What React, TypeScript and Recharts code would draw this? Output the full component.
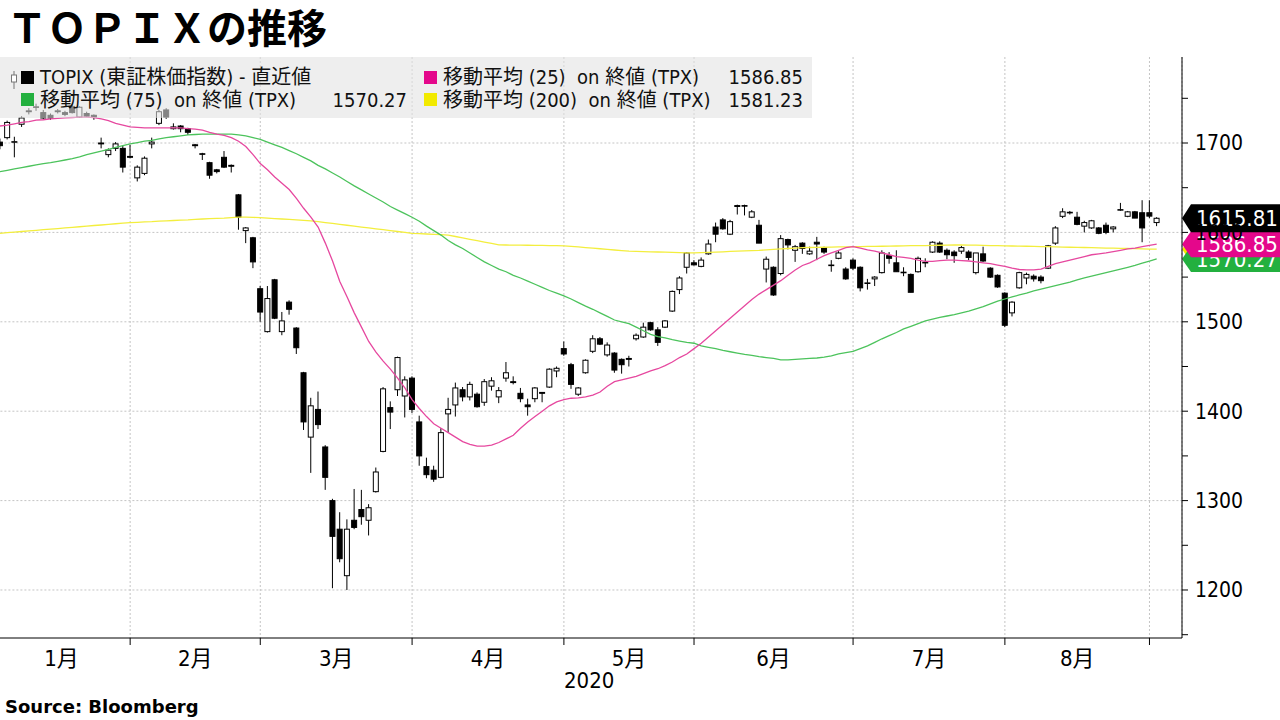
import React from 'react'
import {
  ComposedChart,
  Bar,
  Line,
  XAxis,
  YAxis,
  CartesianGrid,
  ReferenceLine,
  Legend,
} from 'recharts'

const FONT = "'DejaVu Sans Condensed', 'Noto Sans CJK JP', sans-serif"

// daily candles [open, high, low, close], one array per month
const janBars = [
  [1701, 1705, 1693, 1697], [1706, 1725, 1704, 1723], [1701, 1707, 1684, 1701.5], [1721, 1730, 1718, 1728],
  [1735, 1739, 1732, 1736], [1740, 1744, 1736, 1740.5], [1734, 1737, 1727, 1728], [1731, 1733, 1726, 1728],
  [1735, 1738, 1733, 1736], [1734, 1736, 1730, 1732], [1741, 1743, 1733, 1734], [1729, 1741, 1728, 1740],
  [1733, 1735, 1729, 1730], [1731, 1732, 1726, 1729], [1700, 1706, 1694, 1699], [1687, 1694, 1684, 1692],
  [1694, 1701, 1691, 1699], [1694, 1697, 1667, 1673], [1685, 1698, 1683, 1684],
]
const febBars = [
  [1661, 1675, 1657, 1673], [1666, 1685, 1664, 1683], [1699, 1706, 1694, 1701], [1722, 1737, 1720, 1735],
  [1737, 1739, 1727, 1729], [1716, 1722, 1715, 1718], [1719, 1720, 1712, 1716], [1716, 1717, 1709, 1712],
  [1698, 1699, 1694, 1697], [1688, 1689, 1681, 1687.5], [1678, 1679, 1660, 1664], [1670, 1671, 1666, 1668],
  [1684, 1691, 1672, 1673], [1675, 1676, 1667, 1674], [1642, 1643, 1603, 1617], [1602, 1606, 1588, 1605],
  [1594, 1595, 1560, 1567], [1537, 1540, 1500, 1510.9],
]
const marBars = [
  [1489, 1540, 1488, 1526], [1547, 1548, 1503, 1504], [1489, 1511, 1485, 1501], [1522, 1524, 1508, 1514],
  [1493, 1494, 1464, 1471], [1443, 1444, 1379, 1388], [1371, 1415, 1331, 1406], [1402, 1422, 1380, 1385],
  [1360, 1362, 1312, 1326], [1300, 1302, 1202, 1260], [1268, 1287, 1231, 1235], [1216, 1279, 1200, 1268],
  [1278, 1313, 1268, 1270], [1290, 1312, 1273, 1282], [1278, 1296, 1261, 1292], [1310, 1337, 1309, 1332],
  [1355, 1427, 1354, 1425], [1404, 1411, 1380, 1399], [1424, 1461, 1417, 1460], [1417, 1439, 1393, 1435],
  [1437, 1439, 1398, 1402],
]
const aprBars = [
  [1388, 1395, 1339, 1350], [1338, 1348, 1325, 1329], [1334, 1339, 1321, 1324], [1326, 1381, 1325, 1376],
  [1397, 1415, 1376, 1402], [1407, 1432, 1394, 1426], [1424, 1427, 1411, 1416], [1416, 1433, 1412, 1430],
  [1419, 1421, 1404, 1405], [1410, 1436, 1406, 1433], [1428, 1438, 1423, 1434], [1416, 1427, 1409, 1423],
  [1437, 1455, 1433, 1443], [1433, 1439, 1430, 1432], [1420, 1426, 1410, 1414], [1407, 1414, 1395, 1405],
  [1414, 1427, 1410, 1426], [1421, 1421.5, 1410, 1420], [1427, 1448, 1426, 1447], [1445, 1450, 1438, 1448],
  [1470, 1478, 1462, 1464],
]
const mayBars = [
  [1452, 1454, 1425, 1430], [1419, 1427, 1417, 1426], [1443, 1458, 1442, 1457], [1467, 1485, 1465, 1481],
  [1481, 1483, 1474, 1475], [1463, 1477, 1461, 1474], [1465, 1466, 1443, 1446], [1458, 1459, 1442, 1452],
  [1459, 1462, 1450, 1458], [1481, 1487, 1479, 1485], [1483, 1499, 1482, 1494], [1499, 1500, 1490, 1491],
  [1491, 1494, 1473, 1477], [1494, 1502, 1493, 1501], [1512, 1535, 1511, 1534], [1536, 1551, 1531, 1549],
  [1561, 1578, 1554, 1577], [1566, 1569, 1563, 1563.7],
]
const junBars = [
  [1562, 1572, 1561, 1569], [1576, 1592, 1575, 1587], [1606, 1611, 1589, 1598], [1614, 1616, 1603, 1604],
  [1598, 1614, 1597, 1612], [1630, 1631, 1620, 1629], [1630, 1631, 1619, 1629.5], [1617, 1625, 1616, 1623],
  [1608, 1614, 1588, 1588], [1559, 1573, 1544, 1570], [1561, 1562, 1529, 1530], [1554, 1597, 1552, 1593],
  [1592, 1593, 1581, 1586], [1580, 1586, 1567, 1584], [1588, 1589, 1576, 1582], [1576, 1584, 1575, 1579],
  [1589, 1595, 1569, 1587], [1583, 1584, 1576, 1578], [1563, 1569, 1556, 1563.5], [1571, 1579, 1570, 1577],
  [1559, 1561, 1547, 1548], [1569, 1571, 1558, 1560],
]
const julBars = [
  [1561, 1562, 1534, 1538], [1543, 1548, 1536, 1543.5], [1548, 1551, 1540, 1550], [1555, 1580, 1554, 1577],
  [1574, 1578, 1565, 1571], [1566, 1580, 1556, 1556], [1555, 1561, 1551, 1555.5], [1553, 1554, 1533, 1533],
  [1556, 1573, 1555, 1571], [1566, 1571, 1561, 1566.5], [1578, 1590, 1577, 1589], [1588, 1590, 1577, 1578],
  [1580, 1582, 1570, 1575], [1578, 1580, 1566, 1574], [1579, 1585, 1576, 1583], [1578, 1580, 1569, 1572],
  [1555, 1577, 1553, 1577], [1576, 1584, 1567, 1568], [1560, 1561, 1549, 1550], [1552, 1553, 1538, 1539],
  [1532, 1533, 1494, 1496.1],
]
const augBars = [
  [1510, 1523, 1506, 1522], [1538, 1556, 1537, 1555], [1549, 1555, 1542, 1553], [1551, 1553, 1545, 1548],
  [1550, 1552, 1543, 1546], [1560, 1586, 1559, 1585], [1588, 1607, 1586, 1605], [1618, 1627, 1616, 1623],
  [1622, 1624, 1620, 1622.5], [1617, 1623, 1608, 1609], [1607, 1613, 1600, 1611], [1605, 1614, 1604, 1613],
  [1605, 1606, 1598, 1599], [1608, 1611, 1598, 1600], [1604, 1607, 1600, 1606], [1625, 1633, 1624, 1625.5],
  [1618, 1624, 1617, 1623], [1623, 1624, 1616, 1616], [1622, 1636, 1589, 1605], [1622, 1636, 1616, 1618.2],
]
const sepBars = [[1611, 1617, 1607, 1615.81]]

const months = [
  { label: '1月', bars: janBars },
  { label: '2月', bars: febBars },
  { label: '3月', bars: marBars },
  { label: '4月', bars: aprBars },
  { label: '5月', bars: mayBars },
  { label: '6月', bars: junBars },
  { label: '7月', bars: julBars },
  { label: '8月', bars: augBars },
]

// moving averages, one value per trading day
const ma25 = [
  1719, 1720, 1721.5, 1723, 1724, 1725.5, 1726, 1727, 1727.5, 1728, 1728.5, 1729, 1729, 1728.5, 1727, 1725, 1722, 1720, 1718,
  1717.5, 1717, 1717, 1717, 1717, 1717, 1717, 1716, 1715.5, 1714.5, 1712, 1710, 1708.5, 1706, 1702, 1696, 1687, 1677,
  1670, 1662, 1655, 1648, 1638, 1627, 1617, 1606, 1588, 1568, 1545, 1528, 1510, 1494, 1478, 1466, 1456, 1447, 1437, 1426, 1413,
  1403, 1394, 1386, 1381, 1376, 1371, 1366, 1363, 1361, 1361, 1362, 1365, 1369, 1373, 1381, 1388, 1394, 1400, 1406, 1410.5, 1413,
  1414.5, 1415, 1416, 1418, 1421.5, 1428, 1433, 1435, 1437, 1439, 1442, 1445, 1447.5, 1451, 1455, 1460, 1464, 1470,
  1476, 1483, 1490, 1497, 1504, 1511, 1518, 1525, 1531, 1536, 1541, 1546, 1552, 1558, 1563, 1566, 1570, 1574, 1577, 1580, 1583, 1584,
  1582.5, 1580.5, 1579, 1577, 1575, 1573, 1572, 1571, 1569, 1567.5, 1567.5, 1568.5, 1569, 1569, 1568.5, 1568, 1567, 1566, 1565, 1563.5, 1562,
  1560, 1558.5, 1558, 1558, 1559, 1562, 1565, 1567, 1569, 1571, 1573, 1575, 1576, 1577, 1578.5, 1580, 1581.5, 1582.5, 1584, 1585.5,
  1586.85,
]
const ma75 = [
  1668, 1669.5, 1671, 1672.5, 1674, 1675.5, 1677, 1678, 1679.5, 1681, 1682.5, 1684.5, 1687, 1689, 1691, 1693, 1695, 1697, 1699,
  1700.5, 1702, 1703, 1704.5, 1706, 1707, 1708, 1709, 1709.5, 1710, 1710, 1710, 1710, 1710, 1709, 1708, 1706, 1704,
  1701, 1698, 1695, 1691.5, 1688, 1684, 1680, 1675, 1671, 1666.5, 1662, 1657, 1652, 1647.5, 1643, 1638.5, 1634, 1629, 1625, 1621, 1617,
  1612.5, 1607, 1602, 1597, 1591, 1586, 1582, 1577, 1572, 1567, 1563, 1559, 1556, 1552, 1549, 1545.5, 1542, 1538.5, 1535, 1532, 1529,
  1525.5, 1521.5, 1517.5, 1514, 1510, 1506, 1502, 1500, 1498, 1494, 1490, 1486, 1483.5, 1482, 1480, 1478.5, 1477, 1476,
  1473, 1471.5, 1470, 1468, 1466.5, 1465, 1463.5, 1462.5, 1461, 1460, 1459, 1457.5, 1457.5, 1458, 1458.5, 1459, 1459.5, 1460.5, 1462, 1464, 1465.5, 1467,
  1470, 1473, 1477, 1481, 1484.5, 1488, 1492, 1495, 1498, 1501, 1503, 1505, 1506.5, 1508, 1510, 1512, 1514.5, 1517, 1520, 1523, 1525.5,
  1528, 1530, 1532, 1534.5, 1536.5, 1538.5, 1540.5, 1542.5, 1544.5, 1547, 1549, 1551, 1553, 1555, 1557, 1559, 1561, 1563, 1565.5, 1568,
  1570.27,
]
const ma200 = [
  1599, 1599.7, 1600.3, 1601, 1601.7, 1602.3, 1603, 1603.7, 1604.3, 1605, 1605.7, 1606.3, 1607, 1607.7, 1608.3, 1609, 1609.7, 1610.3, 1611,
  1611.3, 1611.7, 1612, 1612.5, 1613, 1613.3, 1613.7, 1614, 1614.5, 1615, 1615.3, 1615.7, 1616, 1616.5, 1617, 1617, 1616.8, 1616.5,
  1616, 1615.5, 1615, 1614.5, 1614, 1613.5, 1613, 1612, 1611, 1610, 1609, 1608, 1607, 1606, 1605, 1604, 1603, 1602, 1601, 1600, 1599,
  1598.6, 1598.2, 1597.8, 1597.4, 1597, 1595.4, 1593.9, 1592.3, 1590.7, 1589.1, 1587.6, 1586, 1585.9, 1585.8, 1585.7, 1585.6, 1585.5, 1585.4, 1585.3, 1585.2, 1585,
  1584.3, 1583.7, 1583, 1582.3, 1581.7, 1581, 1580.3, 1579.7, 1579, 1578.8, 1578.6, 1578.3, 1578.1, 1577.9, 1577.7, 1577.4, 1577.2, 1577,
  1577.3, 1577.7, 1578, 1578.3, 1578.7, 1579, 1579.3, 1579.7, 1580, 1580.5, 1581, 1581.5, 1582, 1582.5, 1583, 1583.1, 1583.3, 1583.4, 1583.6, 1583.7, 1583.9, 1584,
  1584.1, 1584.3, 1584.4, 1584.5, 1584.7, 1584.8, 1584.9, 1585.1, 1585.2, 1585.3, 1585.5, 1585.6, 1585.7, 1585.9, 1586, 1585.8, 1585.7, 1585.5, 1585.3, 1585.2, 1585,
  1584.8, 1584.7, 1584.5, 1584.3, 1584.2, 1584, 1583.8, 1583.6, 1583.4, 1583.3, 1583.1, 1582.9, 1582.7, 1582.5, 1582.3, 1582.2, 1582, 1581.8, 1581.6, 1581.4,
  1581.23,
]

const yTicks = [1150, 1200, 1250, 1300, 1350, 1400, 1450, 1500, 1550, 1600, 1650, 1700, 1750]
const yGrid = [1200, 1300, 1400, 1500, 1600, 1700]
const EXTRA_SLOTS = 3

const candles = [...months.flatMap((m) => m.bars), ...sepBars]

const monthTicks = months.reduce((acc, m) => {
  const prev = acc.length ? acc[acc.length - 1].end : -1
  acc.push({ label: m.label, days: m.bars.length, end: prev + m.bars.length })
  return acc
}, [] as { label: string; days: number; end: number }[])

const rows = Array.from({ length: candles.length + EXTRA_SLOTS }, (_, i) => {
  const k = candles[i]
  if (!k) return { i }
  return { i, o: k[0], h: k[1], l: k[2], c: k[3], ma25: ma25[i], ma75: ma75[i], ma200: ma200[i] }
})

const last = candles.length - 1

const COLORS = {
  ma25: '#e6489f',
  ma75: '#4cc35c',
  ma200: '#f3ee3e',
  ma25Box: '#e4078b',
  ma75Box: '#23b03f',
  ma200Box: '#f2ea00',
}

const Candle = (props: any) => {
  const { x, y, width, height, payload } = props
  if (!payload || payload.h == null) return null
  const { o, h, l, c } = payload
  const top = Math.min(y, y + height)
  const bot = Math.max(y, y + height)
  const k = (bot - top) / (h - l)
  const py = (v: number) => top + (h - v) * k
  const cx = x + width / 2
  const bTop = py(Math.max(o, c))
  const bBot = py(Math.min(o, c))
  const up = c >= o
  return (
    <g>
      <line x1={cx} x2={cx} y1={top} y2={bot} stroke="#000" strokeWidth={1} />
      <rect
        x={cx - 2.5}
        y={bTop}
        width={5}
        height={Math.max(bBot - bTop, 0.6)}
        fill={up ? '#fff' : '#000'}
        stroke="#000"
        strokeWidth={1}
      />
    </g>
  )
}

const MonthTick = (props: any) => {
  const { x, y, payload } = props
  const m = monthTicks.find((t) => t.end === payload.value)
  if (!m) return null
  const band = payload.offset ? payload.offset * 2 : 7.23
  return (
    <text x={x - (m.days / 2) * band} y={y} dy="0.85em" textAnchor="middle" fontSize={22} fontFamily={FONT} fill="#000">
      {m.label}
    </text>
  )
}

const Callout = (props: any) => {
  const { viewBox, text, fill, half } = props
  if (!viewBox) return null
  const x = viewBox.x + viewBox.width
  const y = viewBox.y
  return (
    <g>
      <polygon
        points={`${x},${y} ${x + 9},${y - half} ${x + 120},${y - half} ${x + 120},${y + half} ${x + 9},${y + half}`}
        fill={fill}
      />
      <text x={x + 14} y={y} dy="0.36em" fill="#fff" fontSize={22} fontFamily={FONT}>
        {text}
      </text>
    </g>
  )
}

const Swatch = ({ color, left, top }: { color: string; left: number; top: number }) => (
  <span style={{ position: 'absolute', left, top, width: 13, height: 13, background: color }} />
)

const LegendBox = () => {
  const txt: React.CSSProperties = {
    position: 'absolute',
    whiteSpace: 'pre',
    fontSize: 20,
    lineHeight: '24px',
    color: '#111',
    fontFamily: FONT,
    display: 'flex',
    justifyContent: 'space-between',
  }
  return (
    <div style={{ position: 'relative', width: 812, height: 61, background: 'rgba(226,226,226,0.58)' }}>
      <svg style={{ position: 'absolute', left: 10, top: 14 }} width={8} height={18}>
        <line x1={4} x2={4} y1={0} y2={18} stroke="#777" strokeWidth={1} />
        <rect x={1.5} y={4} width={5} height={7} fill="#fff" stroke="#777" strokeWidth={1} />
      </svg>
      <Swatch color="#000" left={21} top={14} />
      <div style={{ ...txt, left: 40, top: 8 }}>
        <span>TOPIX (東証株価指数) - 直近値</span>
      </div>
      <Swatch color={COLORS.ma25Box} left={424} top={14} />
      <div style={{ ...txt, left: 443, top: 8, width: 360 }}>
        <span>移動平均 (25)  on 終値 (TPX)</span>
        <span>{ma25[last].toFixed(2)}</span>
      </div>
      <Swatch color={COLORS.ma75Box} left={21} top={36} />
      <div style={{ ...txt, left: 40, top: 31, width: 367 }}>
        <span>移動平均 (75)  on 終値 (TPX)</span>
        <span>{ma75[last].toFixed(2)}</span>
      </div>
      <Swatch color={COLORS.ma200Box} left={424} top={36} />
      <div style={{ ...txt, left: 443, top: 31, width: 360 }}>
        <span>移動平均 (200)  on 終値 (TPX)</span>
        <span>{ma200[last].toFixed(2)}</span>
      </div>
    </div>
  )
}

export default function App() {
  return (
    <div style={{ position: 'absolute', left: 0, top: 0, width: 1280, height: 720, overflow: 'hidden', background: '#fff' }}>
      <div
        style={{
          position: 'absolute',
          left: 7,
          top: 2,
          fontFamily: "'Noto Sans CJK JP', sans-serif",
          fontWeight: 700,
          fontSize: 40,
          lineHeight: '48px',
          color: '#000',
          whiteSpace: 'nowrap',
        }}
      >
        ＴＯＰＩＸの推移
      </div>
      <div style={{ position: 'absolute', left: -4, top: 0 }}>
        <ComposedChart width={1284} height={720} data={rows} margin={{ top: 57, right: 0, bottom: 0, left: 0.4 }}>
          <CartesianGrid stroke="#c4c4c4" strokeDasharray="2 2" horizontalValues={yGrid} />
          <XAxis
            dataKey="i"
            ticks={monthTicks.map((t) => t.end)}
            interval={0}
            tick={<MonthTick />}
            tickSize={7}
            tickLine={{ stroke: '#000' }}
            axisLine={{ stroke: '#000' }}
            height={82}
            label={{ value: '2020', position: 'insideBottom', offset: 32, fontSize: 22, fontFamily: FONT, fill: '#000' }}
          />
          <YAxis
            orientation="right"
            domain={[1146.3, 1796.2]}
            allowDataOverflow
            ticks={yTicks}
            interval={0}
            width={98}
            tickSize={6}
            tickMargin={7}
            tickLine={{ stroke: '#000' }}
            axisLine={{ stroke: '#000' }}
            tick={{ fill: '#000', fontSize: 21, fontFamily: FONT }}
            tickFormatter={(v: number) => (v % 100 === 0 ? String(v) : '')}
          />
          <Bar
            dataKey={(d: any) => (d.h == null ? null : [d.l, d.h])}
            barSize={5}
            shape={Candle}
            isAnimationActive={false}
          />
          <Line dataKey="ma200" stroke={COLORS.ma200} strokeWidth={1.3} dot={false} isAnimationActive={false} />
          <Line dataKey="ma75" stroke={COLORS.ma75} strokeWidth={1.3} dot={false} isAnimationActive={false} />
          <Line dataKey="ma25" stroke={COLORS.ma25} strokeWidth={1.3} dot={false} isAnimationActive={false} />
          <ReferenceLine y={ma200[last]} stroke="none" ifOverflow="visible"
            label={<Callout text={ma200[last].toFixed(2)} fill={COLORS.ma200Box} half={13} />} />
          <ReferenceLine y={ma75[last]} stroke="none" ifOverflow="visible"
            label={<Callout text={ma75[last].toFixed(2)} fill={COLORS.ma75Box} half={13} />} />
          <ReferenceLine y={ma25[last]} stroke="none" ifOverflow="visible"
            label={<Callout text={ma25[last].toFixed(2)} fill={COLORS.ma25Box} half={13} />} />
          <ReferenceLine y={candles[last][3]} stroke="none" ifOverflow="visible"
            label={<Callout text={candles[last][3].toFixed(2)} fill="#000" half={14} />} />
          <Legend
            verticalAlign="middle"
            align="center"
            layout="horizontal"
            content={() => <LegendBox />}
            wrapperStyle={{ top: 57, left: 4, width: 812, height: 61 }}
          />
        </ComposedChart>
      </div>
      <div
        style={{
          position: 'absolute',
          left: 5,
          top: 696,
          fontFamily: "'DejaVu Sans', sans-serif",
          fontWeight: 700,
          fontSize: 18,
          lineHeight: '22px',
          color: '#000',
        }}
      >
        Source: Bloomberg
      </div>
    </div>
  )
}
